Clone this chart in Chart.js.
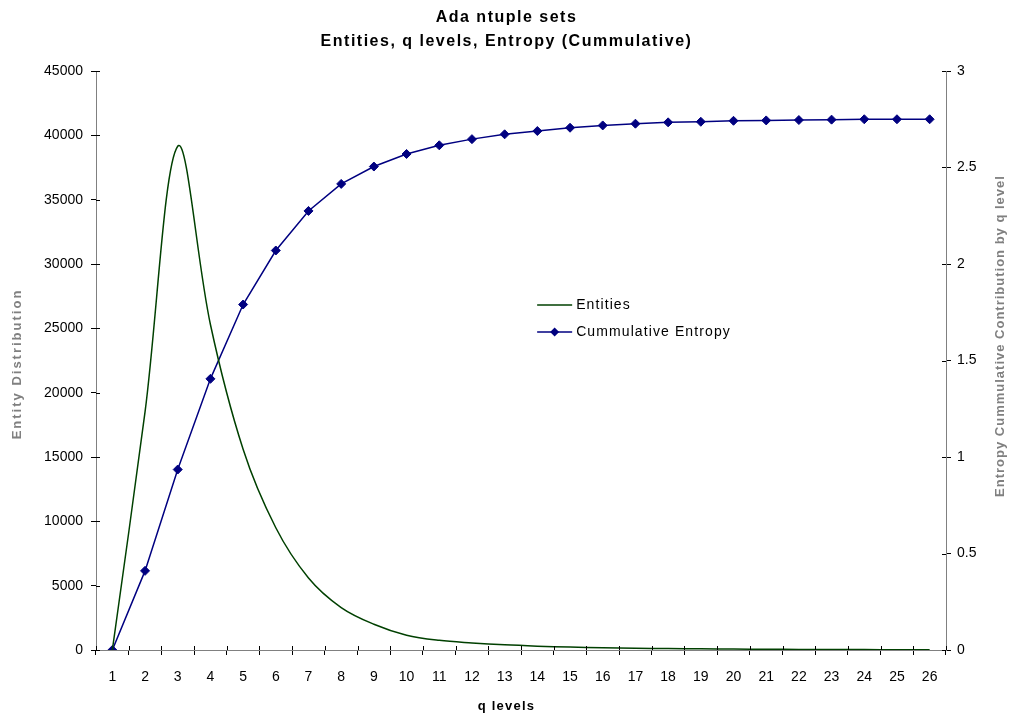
<!DOCTYPE html>
<html>
<head>
<meta charset="utf-8">
<title>Ada ntuple sets</title>
<script src="https://cdn.jsdelivr.net/npm/chart.js@4/dist/chart.umd.min.js"></script>
<style>
  body { margin: 0; background: #fff; }
  #wrap { width: 1013px; height: 721px; }
</style>
</head>
<body>
<div id="wrap"><canvas id="chart" width="1013" height="721"></canvas></div>
<script>
// data
const qLevels = ["1", "2", "3", "4", "5", "6", "7", "8", "9", "10", "11", "12", "13",
    "14", "15", "16", "17", "18", "19", "20", "21", "22", "23", "24", "25", "26"];

const entities = [0, 18500, 39150, 25300, 15600, 9500, 5600, 3300, 2000, 1150, 750,
    550, 400, 300, 230, 180, 140, 110, 90, 70, 55, 45, 35, 30, 25, 20];

const cumEntropy = [0, 0.41, 0.935, 1.405, 1.79, 2.07, 2.275, 2.415, 2.505, 2.57, 2.615,
    2.647, 2.672, 2.689, 2.706, 2.718, 2.727, 2.734, 2.737, 2.742, 2.744, 2.746,
    2.748, 2.75, 2.75, 2.75];

const leftTicks = [0, 5000, 10000, 15000, 20000, 25000, 30000, 35000, 40000, 45000];
const rightTicks = [0, 0.5, 1, 1.5, 2, 2.5, 3];

const titleLines = ['Ada ntuple sets', 'Entities, q levels, Entropy (Cummulative)'];
const xTitle = 'q levels';
const leftTitle = 'Entity Distribution';
const rightTitle = 'Entropy Cummulative Contribution by q level';

const FONT = "'Liberation Sans', Arial, sans-serif";
const GREEN = '#004000';
const NAVY = '#000080';

// helper: text with letter spacing (the original text is drawn wide)
function spacedText(ctx, txt, x, y, font, spacing, color, angle) {
    ctx.save();
    ctx.font = font;
    ctx.fillStyle = color;
    ctx.textBaseline = 'middle';
    ctx.textAlign = 'center';
    if ('letterSpacing' in ctx) ctx.letterSpacing = spacing + 'px';
    ctx.translate(x, y);
    if (angle) ctx.rotate(angle);
    ctx.fillText(txt, 0, 0);
    ctx.restore();
}

// titles, axis titles and the legend inside the plot
const decor = {
    id: 'decor',
    afterDraw(chart) {
        const ctx = chart.ctx;
        const area = chart.chartArea;

        spacedText(ctx, titleLines[0], chart.width / 2, 18, 'bold 16px ' + FONT, 1.5, '#000');
        spacedText(ctx, titleLines[1], chart.width / 2, 42, 'bold 16px ' + FONT, 1.5, '#000');
        spacedText(ctx, xTitle, chart.width / 2, 706, 'bold 13px ' + FONT, 1.2, '#000');
        spacedText(ctx, leftTitle, 17, 364, 'bold 13px ' + FONT, 2, '#808080', -Math.PI / 2);
        spacedText(ctx, rightTitle, chart.width - 13, 336, 'bold 13px ' + FONT, 1, '#808080', -Math.PI / 2);

        // legend
        const x = area.left + area.width * 0.519;
        const y = area.top + area.height * 0.404;
        const y2 = y + 27;
        ctx.save();
        ctx.lineWidth = 1.5;
        ctx.strokeStyle = GREEN;
        ctx.beginPath();
        ctx.moveTo(x, y);
        ctx.lineTo(x + 35, y);
        ctx.stroke();
        ctx.strokeStyle = NAVY;
        ctx.beginPath();
        ctx.moveTo(x, y2);
        ctx.lineTo(x + 35, y2);
        ctx.stroke();
        ctx.fillStyle = NAVY;
        ctx.beginPath();
        ctx.moveTo(x + 17.5, y2 - 4.5);
        ctx.lineTo(x + 22, y2);
        ctx.lineTo(x + 17.5, y2 + 4.5);
        ctx.lineTo(x + 13, y2);
        ctx.closePath();
        ctx.fill();
        ctx.font = '14px ' + FONT;
        ctx.fillStyle = '#000';
        ctx.textBaseline = 'middle';
        if ('letterSpacing' in ctx) ctx.letterSpacing = '1.1px';
        ctx.fillText('Entities', x + 39, y);
        ctx.fillText('Cummulative Entropy', x + 39, y2);
        ctx.restore();

        // inner half of the crossing tick marks
        const yl = chart.scales.y, yr = chart.scales.y1;
        ctx.save();
        ctx.strokeStyle = '#000';
        ctx.lineWidth = 1;
        ctx.beginPath();
        const step = area.width / qLevels.length;
        for (let i = 0; i <= qLevels.length; i++) {
            const px = Math.round(area.left + i * step) + 0.5;
            ctx.moveTo(px, area.bottom);
            ctx.lineTo(px, area.bottom - 4);
        }
        leftTicks.forEach(v => {
            const py = Math.round(yl.getPixelForValue(v)) + 0.5;
            ctx.moveTo(area.left, py);
            ctx.lineTo(area.left + 4, py);
        });
        rightTicks.forEach(v => {
            const py = Math.round(yr.getPixelForValue(v)) + 0.5;
            ctx.moveTo(area.right, py);
            ctx.lineTo(area.right - 4, py);
        });
        ctx.stroke();
        ctx.restore();
    }
};

const chart = new Chart(document.getElementById('chart'), {
    type: 'line',
    data: {
        labels: qLevels,
        datasets: [{
            label: 'Entities',
            data: entities,
            yAxisID: 'y',
            borderColor: GREEN,
            borderWidth: 1.5,
            pointRadius: 0,
            tension: 0.35,
            fill: false
        }, {
            label: 'Cummulative Entropy',
            data: cumEntropy,
            yAxisID: 'y1',
            borderColor: NAVY,
            backgroundColor: NAVY,
            borderWidth: 1.5,
            pointStyle: 'rectRot',
            pointRadius: 4.5,
            pointBorderWidth: 1,
            tension: 0,
            fill: false
        }]
    },
    options: {
        responsive: false,
        animation: false,
        devicePixelRatio: 1,
        layout: { padding: { left: 0, right: 0, top: 71, bottom: 0 } },
        plugins: {
            legend: { display: false },
            tooltip: { enabled: false },
            title: { display: false }
        },
        scales: {
            x: {
                offset: true,
                grid: {
                    offset: true,
                    drawOnChartArea: false,
                    drawTicks: true,
                    tickLength: 5,
                    color: '#000'
                },
                border: { color: '#808080', width: 1 },
                ticks: {
                    color: '#000',
                    font: { family: FONT, size: 14 },
                    padding: 14,
                    maxRotation: 0,
                    autoSkip: false
                },
                afterFit: (scale) => { scale.height = 71; }
            },
            y: {
                position: 'left',
                min: 0,
                max: 45000,
                afterBuildTicks: (scale) => { scale.ticks = leftTicks.map(v => ({ value: v })); },
                grid: {
                    drawOnChartArea: false,
                    tickLength: 5,
                    color: '#000'
                },
                border: { color: '#808080', width: 1 },
                ticks: {
                    color: '#000',
                    font: { family: FONT, size: 14 },
                    padding: 8,
                    callback: v => String(v)
                },
                afterFit: (scale) => { scale.width = 96; }
            },
            y1: {
                position: 'right',
                min: 0,
                max: 3,
                afterBuildTicks: (scale) => { scale.ticks = rightTicks.map(v => ({ value: v })); },
                grid: {
                    drawOnChartArea: false,
                    tickLength: 5,
                    color: '#000'
                },
                border: { color: '#808080', width: 1 },
                ticks: {
                    color: '#000',
                    font: { family: FONT, size: 14 },
                    padding: 6,
                    callback: v => String(v)
                },
                afterFit: (scale) => { scale.width = 67; }
            }
        }
    },
    plugins: [decor]
});
</script>
</body>
</html>
